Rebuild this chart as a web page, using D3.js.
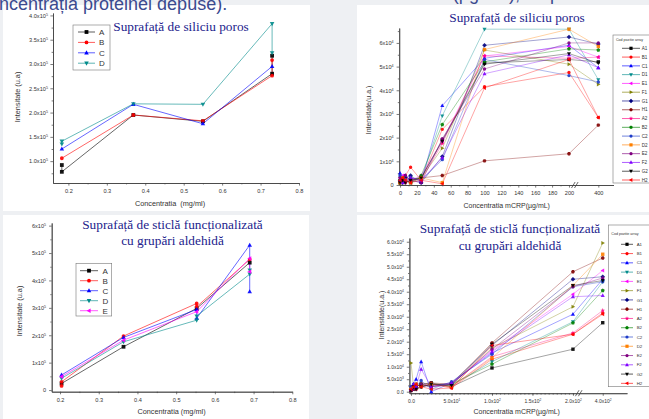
<!DOCTYPE html>
<html><head><meta charset="utf-8">
<script src="https://cdn.jsdelivr.net/npm/d3@7"></script>
<style>
body{margin:0;background:#eef0f3;}
svg{display:block;font-family:"Liberation Sans",Arial,sans-serif;}
</style></head><body>
<svg id="c" width="649" height="419"></svg>
<script>
// ---------------- DATA ----------------
// Chart 1: porous silicon, protein concentration (mg/ml)
const c1Names = ["A","B","C","D"];
const c1Colors = ["#000000","#ff0000","#0000ff","#008b8b"];
const c1Shapes = ["square","circle","triUp","triDown"];
const c1X = [
  [0.183,0.183,0.369,0.55,0.73,0.73],
  [0.183,0.369,0.55,0.73,0.73],
  [0.183,0.369,0.55,0.73],
  [0.183,0.183,0.369,0.55,0.73,0.73]
];
const c1Y = [
  [0.92,0.78,1.95,1.82,2.80,3.17],
  [1.06,1.95,1.83,2.76,3.08],
  [1.25,2.17,1.77,2.95],
  [1.35,1.41,2.18,2.17,3.83,3.23]
];
const c1YTicks = [1.0,1.5,2.0,2.5,3.0,3.5,4.0];
const c1YLabels = ["1.0x10^5","1.5x10^5","2.0x10^5","2.5x10^5","3.0x10^5","3.5x10^5","4.0x10^5"];
const c1XTicks = [0.2,0.3,0.4,0.5,0.6,0.7,0.8];
const c1XLabels = ["0.2","0.3","0.4","0.5","0.6","0.7","0.8"];

// Chart 3: aldehyde glass, protein concentration (mg/ml)
const c3Names = ["A","B","C","D","E"];
const c3Colors = ["#000000","#ff0000","#0000ff","#008b8b","#ff00ff"];
const c3Shapes = ["square","circle","triUp","triDown","triLeft"];
const c3X = [
  [0.204,0.364,0.553,0.69],
  [0.204,0.204,0.364,0.553,0.553,0.69],
  [0.204,0.364,0.553,0.553,0.69,0.69],
  [0.204,0.364,0.553,0.553,0.69,0.69],
  [0.204,0.364,0.553,0.69,0.69]
];
const c3Y = [
  [0.24,1.58,2.98,4.65],
  [0.15,0.30,1.97,3.16,3.04,4.77],
  [0.55,1.92,2.94,2.62,5.29,3.59],
  [0.43,1.76,2.55,2.70,4.23,4.38],
  [0.49,1.82,2.86,4.80,4.32]
];
const c3YTicks = [0,1,2,3,4,5,6];
const c3YLabels = ["0","1x10^5","2x10^5","3x10^5","4x10^5","5x10^5","6x10^5"];
const c3XTicks = [0.2,0.3,0.4,0.5,0.6,0.7,0.8];
const c3XLabels = ["0.2","0.3","0.4","0.5","0.6","0.7","0.8"];

// Charts 2 & 4: array positions vs mCRP concentration (µg/mL)
const arrNames = ["A1","B1","C1","D1","E1","F1","G1","H1","A2","B2","C2","D2","E2","F2","G2","H2"];
const arrColors = ["#000000","#ff0000","#0000ff","#008b8b","#ff00ff","#808000","#000080","#800000",
                   "#ff0080","#008000","#1e3cc8","#ff8000","#800080","#8000ff","#000000","#ff0000"];
const arrShapes = ["square","circle","triUp","triDown","triLeft","triRight","diamond","hexagon",
                   "star","pentagon","circle","square","circle","triUp","triDown","triLeft"];
const mcrp = [0,3.125,6.25,12.5,25,50,100,200,400];

const c2Values = [
  [0.10,0.30,0.20,0.10,0.30,1.90,5.15,5.30,5.20],
  [0.20,0.10,0.40,0.75,0.20,2.35,4.15,4.75,2.85],
  [0.50,0.30,0.40,0.20,0.10,3.35,5.35,5.90,4.95],
  [0.30,0.20,0.10,0.30,0.20,2.92,6.58,6.58,4.45],
  [0.20,0.40,0.30,0.20,0.40,1.85,5.45,5.85,5.40],
  [0.10,0.20,0.30,0.20,0.30,1.55,5.70,5.10,4.25],
  [0.20,0.10,0.30,0.40,0.10,1.20,5.90,6.25,5.95],
  [0.10,0.20,0.10,0.20,0.30,0.40,1.02,1.32,2.53],
  [0.30,0.20,0.10,0.30,0.20,1.75,5.45,5.35,5.40],
  [0.20,0.30,0.20,0.10,0.40,2.55,5.20,5.75,5.70],
  [0.40,0.10,0.20,0.30,0.20,1.07,5.30,4.62,4.35],
  [0.10,0.30,0.20,0.10,0.30,0.10,5.72,6.58,5.85],
  [0.30,0.20,0.40,0.20,0.10,1.95,4.90,6.00,6.00],
  [0.20,0.10,0.20,0.30,0.20,1.15,4.70,5.50,4.95],
  [0.10,0.20,0.10,0.20,0.30,1.85,5.10,5.55,5.15],
  [0.20,0.30,0.20,0.10,0.20,0.05,4.10,5.30,2.85]
];
const c2YTicks = [0,1,2,3,4,5,6];
const c2YLabels = ["0","1x10^4","2x10^4","3x10^4","4x10^4","5x10^4","6x10^4"];
const c2XTicks = [0,20,40,60,80,100,120,140,160,180,200,400];
const c2XLabels = ["0","20","40","60","80","100","120","140","160","180","200","400"];

const c4Values = [
  [0.05,0.10,0.20,0.30,0.35,0.20,0.95,1.70,2.76],
  [0.10,0.20,0.10,0.25,0.30,0.15,1.30,2.30,3.15],
  [0.20,0.30,0.50,1.20,0.00,0.35,1.55,3.10,4.50],
  [0.10,0.20,0.10,0.20,0.30,0.25,1.20,2.80,4.40],
  [0.10,0.15,0.20,0.30,0.20,0.30,1.65,3.90,4.85],
  [1.15,0.20,0.10,0.20,0.30,0.20,1.75,3.40,5.95],
  [0.10,0.20,0.30,0.20,0.25,0.35,1.85,4.50,4.60],
  [0.05,0.10,0.20,0.30,0.35,0.30,1.95,4.80,5.35],
  [0.10,0.20,0.10,0.20,0.30,0.20,1.40,2.35,3.25],
  [0.10,0.10,0.20,0.30,0.20,0.30,1.10,2.75,4.05],
  [0.20,0.30,0.20,0.45,0.10,0.40,1.50,4.20,4.40],
  [0.10,0.20,0.30,0.20,0.30,0.20,1.35,4.25,5.50],
  [0.05,0.10,0.20,0.30,0.20,0.30,1.70,4.20,4.55],
  [0.10,0.30,0.20,0.90,0.20,0.35,1.60,3.80,3.85],
  [0.05,0.20,0.10,0.20,0.30,0.25,1.90,4.25,4.45],
  [0.10,0.20,0.30,0.20,0.10,0.15,1.85,2.30,3.10]
];
const c4YTicks = [0,0.5,1,1.5,2,2.5,3,3.5,4,4.5,5,5.5,6];
const c4YLabels = ["0.0","5.0x10^3","1.0x10^4","1.5x10^4","2.0x10^4","2.5x10^4","3.0x10^4","3.5x10^4","4.0x10^4","4.5x10^4","5.0x10^4","5.5x10^4","6.0x10^4"];
const c4XTicks = [0,50,100,150,200,400];
const c4XLabels = ["0.0","5.0x10^1","1.0x10^2","1.5x10^2","2.0x10^2","4.0x10^2"];

// ---------------- DRAWING ----------------
const svg = d3.select("#c");
svg.append("rect").attr("width",649).attr("height",419).attr("fill","#eef0f3");
[[3,5,307,206],[357,5,292,207],[3,215,306,204],[357,215,292,204]].forEach(p=>{
  svg.append("rect").attr("x",p[0]).attr("y",p[1]).attr("width",p[2]).attr("height",p[3]).attr("fill","#ffffff");
});

function poly(n,r,rot){let s="";for(let i=0;i<n;i++){const a=rot+i*2*Math.PI/n;s+=(i?"L":"M")+(r*Math.cos(a)).toFixed(2)+","+(r*Math.sin(a)).toFixed(2);}return s+"Z";}
function sym(shape,k){
  switch(shape){
    case "square": return `M${-k},${-k}h${2*k}v${2*k}h${-2*k}Z`;
    case "circle": return `M${-k},0a${k},${k} 0 1,0 ${2*k},0a${k},${k} 0 1,0 ${-2*k},0Z`;
    case "triUp": return `M0,${-1.3*k}L${1.2*k},${0.85*k}L${-1.2*k},${0.85*k}Z`;
    case "triDown": return `M0,${1.3*k}L${1.2*k},${-0.85*k}L${-1.2*k},${-0.85*k}Z`;
    case "triLeft": return `M${-1.3*k},0L${0.85*k},${-1.2*k}L${0.85*k},${1.2*k}Z`;
    case "triRight": return `M${1.3*k},0L${-0.85*k},${-1.2*k}L${-0.85*k},${1.2*k}Z`;
    case "diamond": return `M0,${-1.35*k}L${1.35*k},0L0,${1.35*k}L${-1.35*k},0Z`;
    case "hexagon": return poly(6,1.15*k,0);
    case "pentagon": return poly(5,1.2*k,-Math.PI/2);
    case "star": {let s="";for(let i=0;i<10;i++){const r=i%2?0.6*k:1.4*k;const a=-Math.PI/2+i*Math.PI/5;s+=(i?"L":"M")+(r*Math.cos(a)).toFixed(2)+","+(r*Math.sin(a)).toFixed(2);}return s+"Z";}
  }
}
function sup(sel){
  sel.selectAll(".tick text").each(function(){
    const t=d3.select(this);const s=t.text();
    if(s.includes("^")){const [a,b]=s.split("^");t.text(a);t.append("tspan").attr("dy",-2).attr("font-size","0.65em").text(b);}
  });
}
const AX="#444";
function styleAxis(g,fs){
  g.attr("font-size",fs).attr("font-family","Liberation Sans, Arial, sans-serif");
  g.selectAll("path.domain").attr("stroke",AX).attr("stroke-width",0.8);
  g.selectAll(".tick line").attr("stroke",AX).attr("stroke-width",0.7);
  g.selectAll(".tick text").attr("fill","#333");
}

function drawChart(c){
  const g=svg.append("g");
  const x=d3.scaleLinear().domain(c.xDomain).range(c.xRange);
  const y=d3.scaleLinear().domain(c.yDomain).range(c.yRange);
  const x0=c.xRange[0], yb=c.yRange[0];
  if(c.xMinor){g.append("g").attr("transform",`translate(0,${yb})`)
    .call(d3.axisBottom(x).tickValues(c.xMinor).tickSize(1.4).tickSizeOuter(0).tickFormat(""))
    .call(s=>styleAxis(s,c.tickFs));}
  if(c.yMinor){g.append("g").attr("transform",`translate(${x0},0)`)
    .call(d3.axisLeft(y).tickValues(c.yMinor).tickSize(1.4).tickSizeOuter(0).tickFormat(""))
    .call(s=>styleAxis(s,c.tickFs));}
  const gx=g.append("g").attr("transform",`translate(0,${yb})`)
    .call(d3.axisBottom(x).tickValues(c.xTicks).tickSize(2.6).tickSizeOuter(0).tickPadding(c.xPad)
      .tickFormat((d,i)=>c.xLabels[i]));
  styleAxis(gx,c.tickFs);sup(gx);
  const gy=g.append("g").attr("transform",`translate(${x0},0)`)
    .call(d3.axisLeft(y).tickValues(c.yTicks).tickSize(2.6).tickSizeOuter(0).tickPadding(c.yPad)
      .tickFormat((d,i)=>c.yLabels[i]));
  styleAxis(gy,c.tickFs);sup(gy);
  if(c.breakAt!==undefined){
    const bx=x(c.breakAt);
    [0,3].forEach(o=>g.append("path").attr("d",`M${bx+o-1.8},${yb+3}L${bx+o+1.8},${yb-3}`)
      .attr("stroke",AX).attr("stroke-width",0.8));
  }
  c.series.forEach(s=>{
    const pts=s.xs.map((v,i)=>[x(v),y(s.ys[i])]);
    g.append("path").attr("d",d3.line()(pts)).attr("fill","none")
      .attr("stroke",s.color).attr("stroke-width",c.lw).attr("stroke-opacity",c.lop);
  });
  c.series.forEach(s=>{
    s.xs.forEach((v,i)=>{
      g.append("path").attr("d",sym(s.shape,c.ms)).attr("transform",`translate(${x(v)},${y(s.ys[i])})`)
        .attr("fill",s.color).attr("fill-opacity",0.9);
    });
  });
  const L=c.legend;
  g.append("rect").attr("x",L.x).attr("y",L.y).attr("width",L.w).attr("height",L.h)
    .attr("fill","#fff").attr("stroke","#777").attr("stroke-width",0.6);
  if(L.title) g.append("text").attr("x",L.x+3).attr("y",L.titleY).attr("font-size",L.titleFs).attr("fill","#333").text(L.title);
  c.series.forEach((s,i)=>{
    const ry=L.row0+i*L.dy;
    g.append("line").attr("x1",L.lx0).attr("x2",L.lx1).attr("y1",ry).attr("y2",ry)
      .attr("stroke",s.color).attr("stroke-width",0.8).attr("stroke-opacity",0.8);
    g.append("path").attr("d",sym(s.shape,L.ms)).attr("transform",`translate(${(L.lx0+L.lx1)/2},${ry})`).attr("fill",s.color);
    g.append("text").attr("x",L.tx).attr("y",ry+L.fs*0.36).attr("font-size",L.fs).attr("fill","#333").text(s.name);
  });
  c.title.forEach((t,i)=>g.append("text").attr("x",c.titleX).attr("y",c.titleY[i]).attr("text-anchor","middle")
    .attr("font-family","Liberation Serif, Times New Roman, serif").attr("font-size",13.3).attr("fill","#22228c").text(t));
  g.append("text").attr("transform",`translate(${c.yTitle[1]},${c.yTitle[2]}) rotate(-90)`).attr("text-anchor","middle")
    .attr("font-size",c.axFs).attr("fill","#333").text(c.yTitle[0]);
  g.append("text").attr("x",c.xTitle[1]).attr("y",c.xTitle[2]).attr("text-anchor","middle")
    .attr("font-size",c.axFs).attr("fill","#333").attr("xml:space","preserve").text(c.xTitle[0]);
}

function mk(names,colors,shapes,xs,ys){return names.map((n,i)=>({name:n,color:colors[i],shape:shapes[i],xs:xs[i],ys:ys[i]}));}
const range=(a,b,s)=>d3.range(a,b+1e-9,s);

// cut-off slide text at the top (drawn first, under the chart titles)
svg.append("text").attr("x",-1).attr("y",9.5).attr("font-size",18).attr("fill","#3b4a8f").text("ncentrația proteinei depuse).");
svg.append("text").attr("x",395).attr("y",0.3).attr("font-size",18).attr("fill","#3b4a8f").text("mCRP (µg/mL), respectiv concentrația proteinei (µg/mL)");

// Chart 1
drawChart({xDomain:[0.16,0.8],xRange:[53,299],yDomain:[0.55,4.05],yRange:[183,13],
  xTicks:c1XTicks,xLabels:c1XLabels,yTicks:c1YTicks,yLabels:c1YLabels,
  xMinor:range(0.25,0.75,0.1),yMinor:range(0.75,3.75,0.5),tickFs:5.6,xPad:3.5,yPad:2.5,
  series:mk(c1Names,c1Colors,c1Shapes,c1X,c1Y),lw:0.8,lop:0.75,ms:1.9,
  legend:{x:73,y:25,w:37,h:45,row0:32,dy:10.4,lx0:78,lx1:95,tx:99,fs:8,ms:1.9},
  title:["Suprafață de siliciu poros"],titleX:181,titleY:[30.5],
  yTitle:["Intensitate (u.a)",19.5,97],xTitle:["Concentratia  (mg/ml)",170,205.5],axFs:7.3});

// Chart 2
drawChart({xDomain:[-1,205,395,418],xRange:[399.2,573.2,594.1,613.5],yDomain:[0,6.63],yRange:[185,28],
  xTicks:c2XTicks,xLabels:c2XLabels,yTicks:c2YTicks,yLabels:c2YLabels,
  xMinor:range(10,190,20),yMinor:range(0.5,6.5,1),tickFs:5.6,xPad:3.5,yPad:3,breakAt:206,
  series:mk(arrNames,arrColors,arrShapes,arrNames.map(()=>mcrp),c2Values),lw:0.8,lop:0.45,ms:1.7,
  legend:{x:613,y:35,w:40,h:148,title:"Cod pozitie array",titleY:40.5,titleFs:3.6,row0:48.3,dy:8.78,lx0:622,lx1:640,tx:641.7,fs:4.6,ms:1.6},
  title:["Suprafață de siliciu poros"],titleX:517,titleY:[21.5],
  yTitle:["Intensitate(u.a.)",371,110],xTitle:["Concentratia mCRP(µg/mL)",506.7,208],axFs:7});

// Chart 3
drawChart({xDomain:[0.1785,0.8],xRange:[51.7,292.3],yDomain:[-0.06,6.1],yRange:[391.7,222.9],
  xTicks:c3XTicks,xLabels:c3XLabels,yTicks:c3YTicks,yLabels:c3YLabels,
  xMinor:range(0.25,0.75,0.1),yMinor:range(0.5,5.5,1),tickFs:5.6,xPad:3.5,yPad:3,
  series:mk(c3Names,c3Colors,c3Shapes,c3X,c3Y),lw:0.8,lop:0.75,ms:1.9,
  legend:{x:76,y:263.3,w:35.7,h:52.7,row0:270.7,dy:10,lx0:80,lx1:98,tx:102.5,fs:8,ms:1.9},
  title:["Suprafață de sticlă funcționalizată","cu grupări aldehidă"],titleX:172.5,titleY:[229,244.5],
  yTitle:["Intensitate (u.a)",21.5,311],xTitle:["Concentratia (mg/ml)",171.5,414],axFs:7.3});

// Chart 4
drawChart({xDomain:[-2,205,395,430],xRange:[409.4,577,598.7,627],yDomain:[-0.06,6.15],yRange:[393.2,238],
  xTicks:c4XTicks,xLabels:c4XLabels,yTicks:c4YTicks,yLabels:c4YLabels,
  xMinor:range(5,200,5),yMinor:range(0.25,5.75,0.5),tickFs:5,xPad:3.5,yPad:3,breakAt:207,
  series:mk(arrNames,arrColors,arrShapes,arrNames.map(()=>mcrp),c4Values),lw:0.8,lop:0.45,ms:1.7,
  legend:{x:608.3,y:225,w:45,h:161.7,title:"Cod pozitie array",titleY:235,titleFs:3.6,row0:244.3,dy:9.27,lx0:621,lx1:633,tx:636.7,fs:4.4,ms:1.6},
  title:["Suprafață de sticlă funcționalizată","cu grupări aldehidă"],titleX:510,titleY:[233.3,250],
  yTitle:["Intensitate(u.a.)",383.5,315],xTitle:["Concentratia mCRP(µg/mL)",516.7,414],axFs:7});
</script>
</body></html>
